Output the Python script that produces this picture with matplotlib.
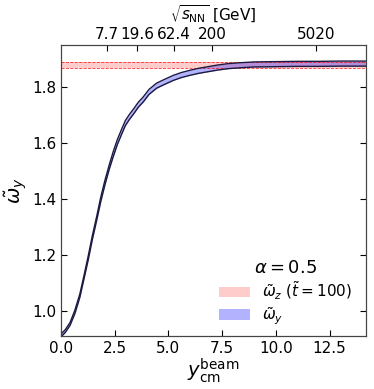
#!/usr/bin/env python3
import numpy as np
import matplotlib
matplotlib.use("Agg")
import matplotlib.pyplot as plt

# beam rapidity vs. omega_y (band centre, half width)
y_beam = [0.0, 0.2, 0.42, 0.65, 0.88, 1.07, 1.27, 1.46, 1.66, 1.85, 2.05, 2.25,
          2.43, 2.62, 2.82, 3.0, 3.2, 3.37, 3.6, 3.83, 4.1, 4.45, 4.8, 5.23,
          5.6, 6.0, 6.4, 6.77, 7.3, 7.8, 8.33, 9.0, 10.0, 11.0, 12.0, 13.0, 14.2]
omega_y = [0.912, 0.928, 0.953, 0.997, 1.055, 1.12, 1.19, 1.262, 1.33, 1.398,
           1.46, 1.515, 1.56, 1.603, 1.64, 1.672, 1.695, 1.712, 1.737, 1.756,
           1.783, 1.805, 1.818, 1.833, 1.843, 1.851, 1.858, 1.863, 1.870,
           1.875, 1.878, 1.881, 1.882, 1.883, 1.883, 1.884, 1.884]
omega_y_err = [0.005, 0.005, 0.005, 0.006, 0.006, 0.006, 0.007, 0.007, 0.007,
               0.008, 0.008, 0.008, 0.009, 0.009, 0.009, 0.009, 0.009, 0.009,
               0.009, 0.009, 0.009, 0.009, 0.009, 0.009, 0.009, 0.009, 0.009,
               0.009, 0.009, 0.009, 0.009, 0.009, 0.009, 0.009, 0.009, 0.009,
               0.009]

# omega_z at t = 100
omega_z_lo = 1.868
omega_z_hi = 1.890

# top axis: sqrt(s_NN) labels at their beam rapidity
snn_labels = ["7.7", "19.6", "62.4", "200", "5020"]
snn_pos = [2.15, 3.53, 5.27, 7.02, 11.86]


def main():
    plt.rcParams['font.size'] = 11
    fig = plt.figure(figsize=(3.74, 3.89), dpi=100)
    ax = fig.add_axes([0.163, 0.136, 0.816, 0.748])

    x = np.array(y_beam)
    yc = np.array(omega_y)
    ye = np.array(omega_y_err)

    ax.axhspan(omega_z_lo, omega_z_hi, color='red', alpha=0.2, lw=0,
               label=r'$\tilde{\omega}_z\ (\tilde{t}=100)$')
    ax.axhline(omega_z_lo, color='red', ls='--', lw=0.6, alpha=0.8)
    ax.axhline(omega_z_hi, color='red', ls='--', lw=0.6, alpha=0.8)

    ax.fill_between(x, yc - ye, yc + ye, color='blue', alpha=0.3, lw=0,
                    label=r'$\tilde{\omega}_y$')
    ax.plot(x, yc - ye, color='#1a1a40', lw=1.0)
    ax.plot(x, yc + ye, color='#1a1a40', lw=1.0)

    ax.set_xlim(0, 14.2)
    ax.set_ylim(0.91, 1.95)
    ax.set_xticks([0, 2.5, 5.0, 7.5, 10.0, 12.5])
    ax.set_xticklabels(["0.0", "2.5", "5.0", "7.5", "10.0", "12.5"])
    ax.set_yticks([1.0, 1.2, 1.4, 1.6, 1.8])
    ax.set_yticklabels(["1.0", "1.2", "1.4", "1.6", "1.8"])
    ax.tick_params(direction='in', right=True, length=4)
    ax.set_xlabel(r'$y_{\rm cm}^{\rm beam}$', fontsize=14, labelpad=0)
    ax.set_ylabel(r'$\tilde{\omega}_y$', fontsize=14, labelpad=2)
    for s in ax.spines.values():
        s.set_color('#444444')

    ax2 = ax.twiny()
    ax2.set_xlim(ax.get_xlim())
    ax2.set_xticks(snn_pos)
    ax2.set_xticklabels(snn_labels)
    ax2.tick_params(direction='in', length=4, pad=2)
    ax2.set_xlabel(r'$\sqrt{s_{\rm NN}}$ [GeV]', fontsize=11, labelpad=5)
    for s in ax2.spines.values():
        s.set_color('#444444')

    ax.legend(loc='lower right', frameon=False, title=r'$\alpha=0.5$',
              title_fontsize=13, fontsize=11, labelspacing=0.2,
              bbox_to_anchor=(1.0, -0.015))

    fig.savefig("out.png", dpi=100)


if __name__ == '__main__':
    main()
